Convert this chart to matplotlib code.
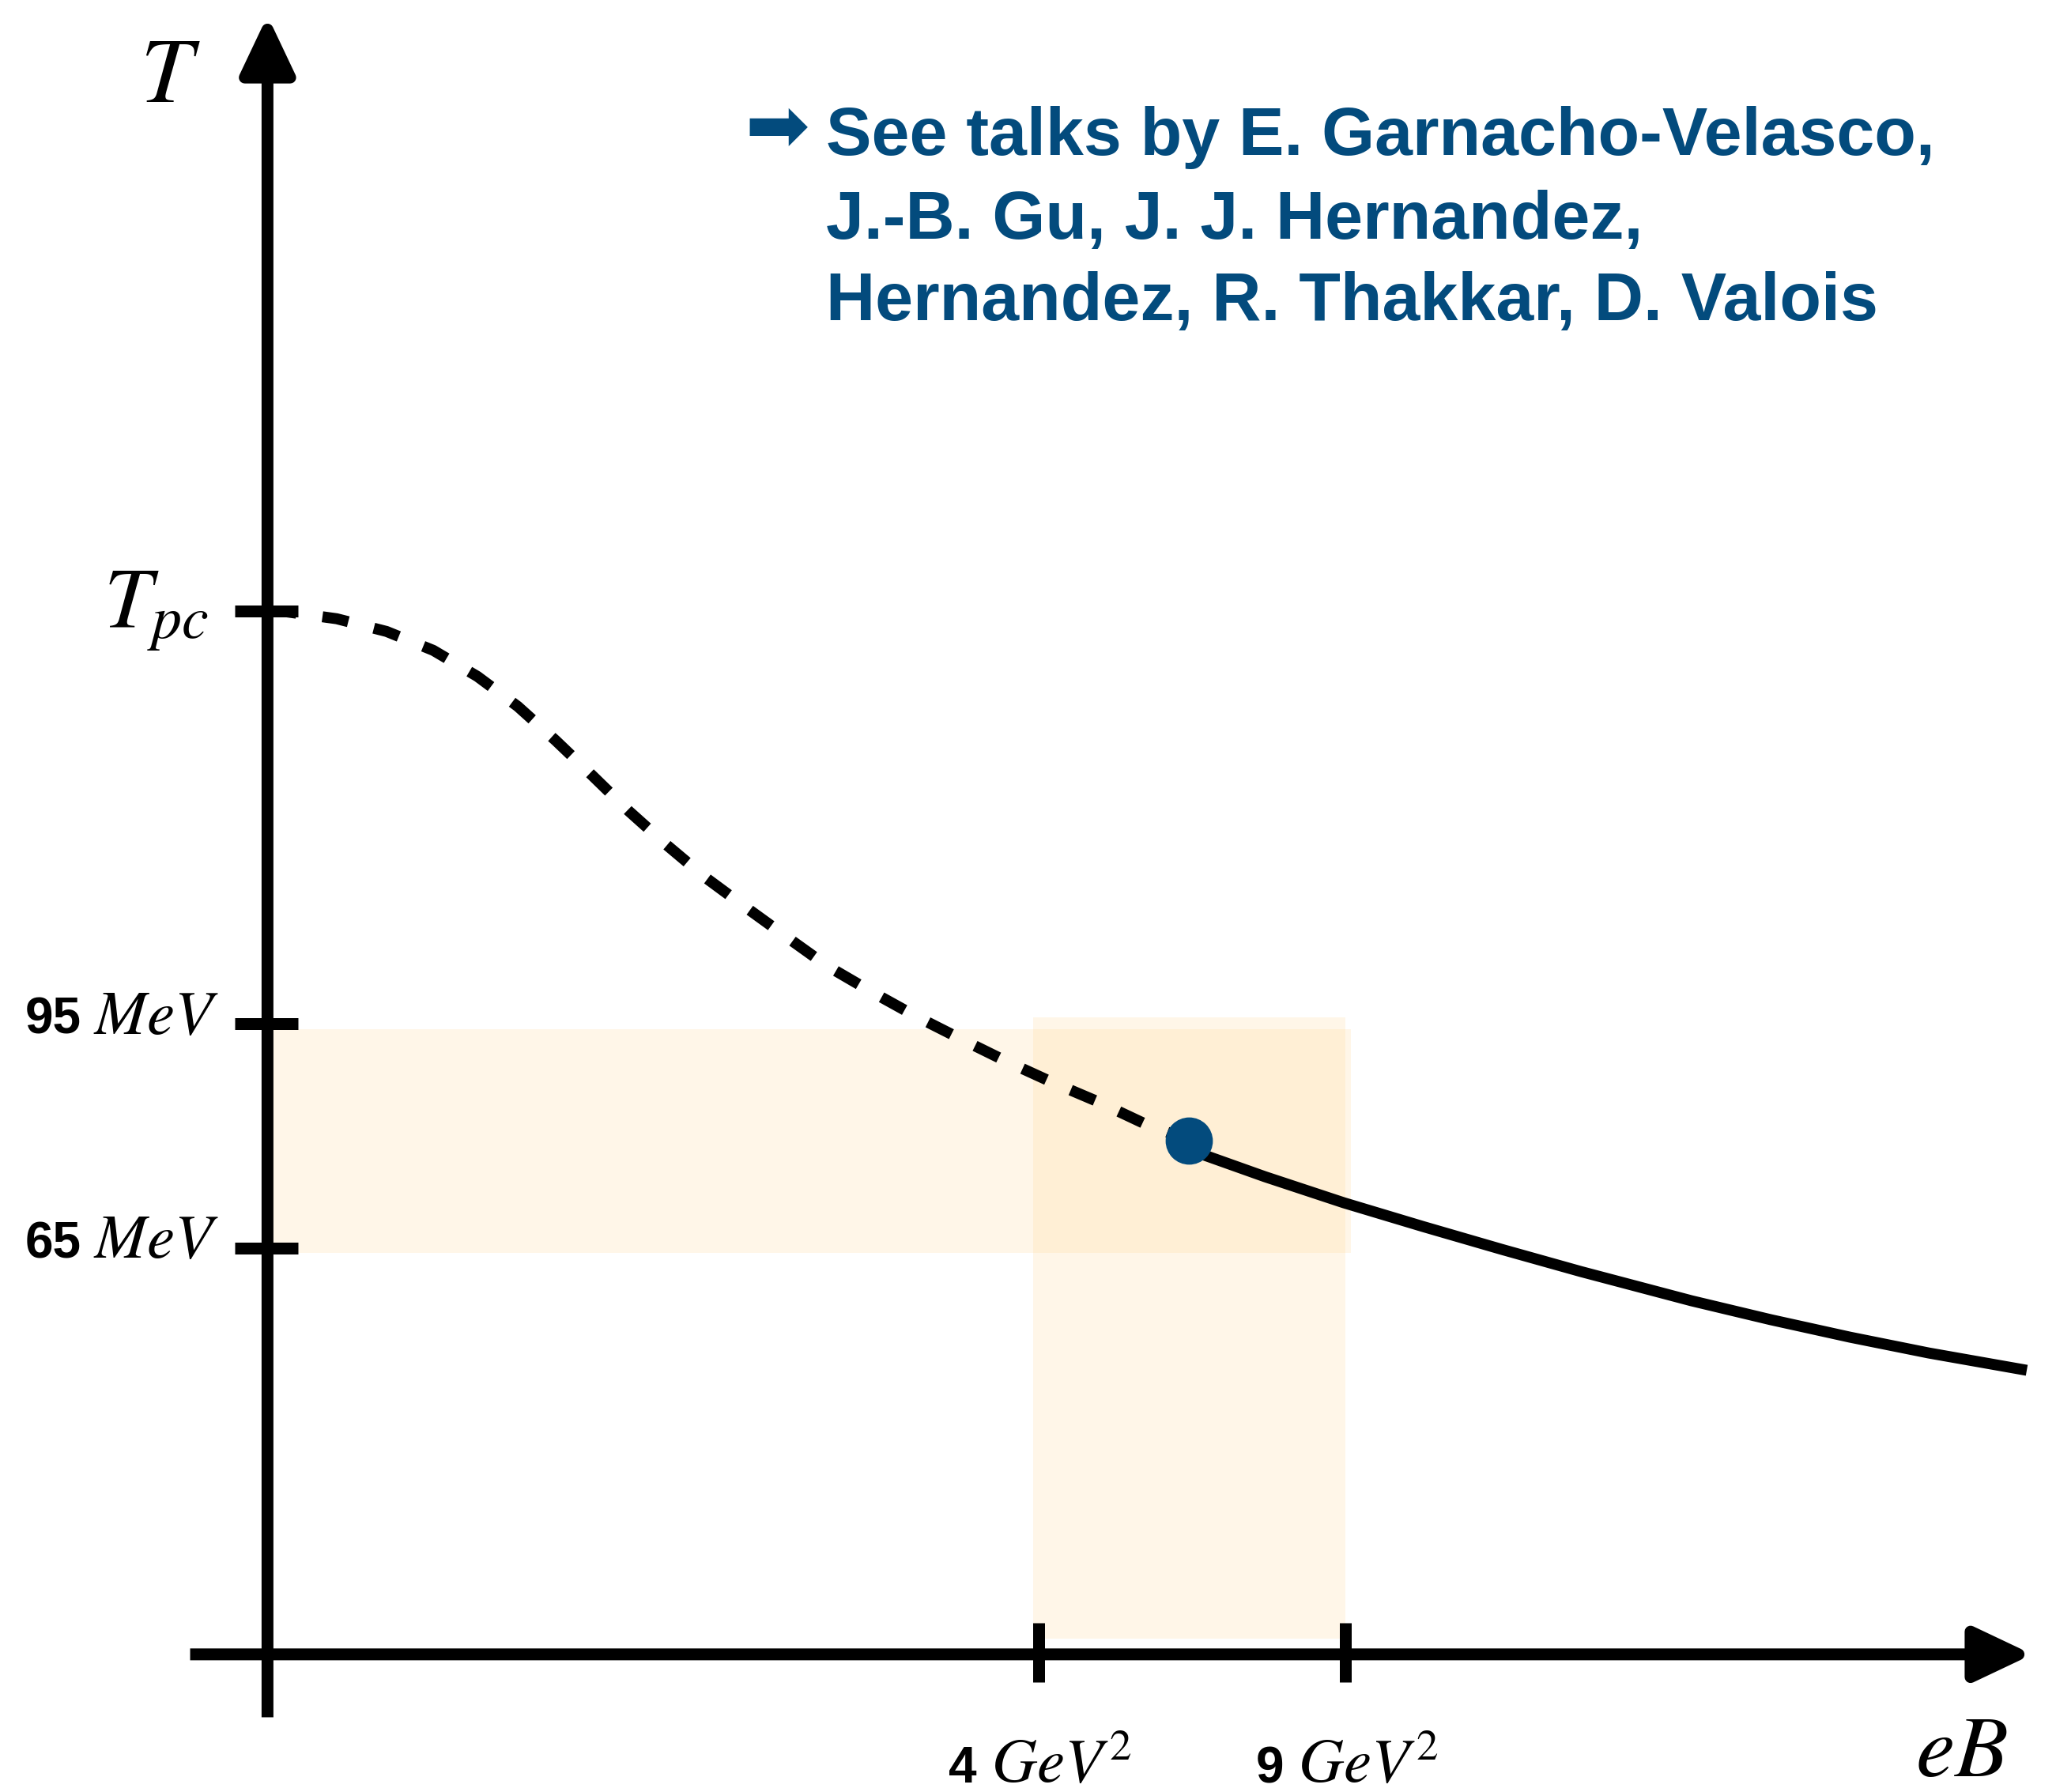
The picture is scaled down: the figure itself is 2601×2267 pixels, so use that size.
import matplotlib
matplotlib.use("Agg")
import matplotlib.pyplot as plt
from matplotlib.patches import Rectangle
from matplotlib import font_manager

plt.rcParams['mathtext.fontset'] = 'stix'

# schematic T(eB) curve (arbitrary units, y-axis at x=0, x-axis at y=0)
eB_dashed = [0.02, 0.136, 0.528, 0.908, 1.264, 1.601, 1.909, 2.198, 2.475, 2.753, 3.042,
             3.337, 3.639, 4.013, 4.266, 4.597, 4.935, 5.279, 5.622, 5.978, 6.333, 6.677, 7.027]
T_dashed = [7.96, 7.954, 7.900, 7.803, 7.659, 7.460, 7.231, 6.971, 6.706, 6.435, 6.176,
            5.928, 5.705, 5.434, 5.253, 5.060, 4.873, 4.699, 4.530, 4.367, 4.216, 4.054, 3.921]
eB_solid = [7.027, 7.165, 7.606, 8.208, 8.811, 9.414, 10.017, 10.861, 11.464,
            12.067, 12.669, 13.417]
T_solid = [3.849, 3.801, 3.644, 3.445, 3.264, 3.089, 2.920, 2.697, 2.553,
           2.420, 2.299, 2.167]
eB_point = 7.027
T_point = 3.921

# ticks
y_tick_pos = [7.96, 4.81, 3.10]
y_tick_num = ['', '95', '65']
y_tick_unit = [r'$T_{pc}$', r'$MeV$', r'$MeV$']
x_tick_pos = [5.88, 8.22]
x_tick_num = ['4', '9']
x_tick_unit = [r'$GeV^2$', r'$GeV^2$']

# shaded windows
band_T = (3.06, 4.77)
band_eB = (5.84, 8.22)

names = ["See talks by E. Garnacho-Velasco,",
         "J.-B. Gu, J. J. Hernandez,",
         "Hernandez, R. Thakkar, D. Valois"]
names_y = [11.44, 10.80, 10.18]

blue = '#034b7d'
shade = '#ffcd78'

avail = {f.name for f in font_manager.fontManager.ttflist}
narrow = 'Liberation Sans Narrow' if 'Liberation Sans Narrow' in avail else 'Liberation Sans'

fig = plt.figure(figsize=(26.01, 22.67), dpi=100)
ax = fig.add_axes([0, 0, 1, 1])
ax.set_xlim(-2.04, 13.64)
ax.set_ylim(-1.05, 12.62)
ax.axis('off')

# bands
ax.add_patch(Rectangle((0.04, band_T[0]), 8.26 - 0.04, band_T[1] - band_T[0],
                       color=shade, alpha=0.17, lw=0, zorder=1))
ax.add_patch(Rectangle((band_eB[0], 0.12), band_eB[1] - band_eB[0], 4.86 - 0.12,
                       color=shade, alpha=0.17, lw=0, zorder=1))

# axes arrows
aprops = dict(arrowstyle='-|>,head_length=0.95,head_width=0.45', lw=10.8, color='black',
              shrinkA=0, shrinkB=0, mutation_scale=46, capstyle='butt')
ax.annotate('', xy=(0, 12.50), xytext=(0, -0.48), arrowprops=aprops, zorder=3)
ax.annotate('', xy=(13.46, 0), xytext=(-0.59, 0), arrowprops=aprops, zorder=3)

# ticks
for y in y_tick_pos:
    ax.plot([-0.25, 0.23], [y, y], color='black', lw=10.8, solid_capstyle='butt', zorder=3)
for x in x_tick_pos:
    ax.plot([x, x], [-0.21, 0.24], color='black', lw=10.8, solid_capstyle='butt', zorder=3)

# curve
ax.plot(eB_dashed, T_dashed, color='black', lw=10, dashes=(2.4, 2.4),
        dash_capstyle='butt', zorder=4)
ax.plot(eB_solid, T_solid, color='black', lw=10, solid_capstyle='butt',
        solid_joinstyle='round', zorder=4)
ax.plot([eB_point], [T_point], 'o', ms=42, color=blue, mec=blue, zorder=5)

# y tick labels
ax.text(-0.45, 7.83, y_tick_unit[0], fontsize=78, ha='right', va='baseline')
for y, num, unit in zip(y_tick_pos[1:], y_tick_num[1:], y_tick_unit[1:]):
    base = y - 0.075
    ax.text(-0.37, base, unit, fontsize=57, ha='right', va='baseline')
    ax.text(-1.42, base, num, fontsize=46, ha='right', va='baseline',
            family='Liberation Sans', weight='bold')

# x tick labels
for x, num, unit in zip(x_tick_pos, x_tick_num, x_tick_unit):
    ax.text(x - 0.47, -0.98, num, fontsize=46, ha='right', va='baseline',
            family='Liberation Sans', weight='bold')
    ax.text(x - 0.36, -0.98, unit, fontsize=57, ha='left', va='baseline')

# axis labels
ax.text(-0.74, 11.84, r'$T$', fontsize=85, ha='center', va='baseline')
ax.text(13.27, -0.93, r'$eB$', fontsize=80, ha='right', va='baseline')

# reference note
ax.text(3.64, 11.63, '\u27a1', fontsize=70, color=blue, ha='left', va='center',
        family='DejaVu Sans')
for y, line in zip(names_y, names):
    ax.text(4.26, y, line, fontsize=62, color=blue, ha='left', va='baseline',
            family=narrow, weight='bold')

fig.savefig('out.png', dpi=100)
